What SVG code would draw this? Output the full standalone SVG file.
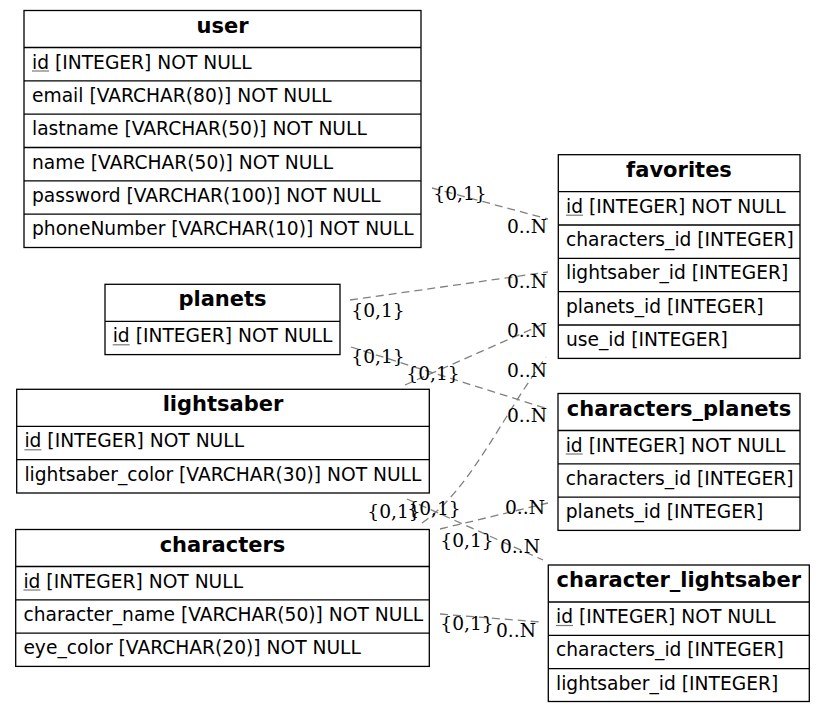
<svg xmlns="http://www.w3.org/2000/svg" width="825" height="713" viewBox="0 0 825 713">
<style>
.box{fill:#fff;stroke:#000;stroke-width:1.3}
.sep{stroke:#000;stroke-width:1.3}
.title{font-family:"DejaVu Sans",sans-serif;font-size:21px;font-weight:bold;text-anchor:middle;fill:#000}
.f{font-family:"DejaVu Sans",sans-serif;font-size:18.67px;fill:#000}
.ul{stroke:#7a7a7a;stroke-width:1.2}
.e{fill:none;stroke:#808080;stroke-width:1.3;stroke-dasharray:8,5}
.lb{font-family:"DejaVu Serif",serif;font-size:18.67px;text-anchor:middle;fill:#000}
</style>
<rect width="825" height="713" fill="#fff"/>
<g id="connectors">
<path class="e" d="M432,188 L548,219"/>
<path class="e" d="M350,300 L548,272"/>
<path class="e" d="M351,347 L548,409"/>
<path class="e" d="M405,385 L548,322"/>
<path class="e" d="M422,523 C470,490 500,420 546,357"/>
<path class="e" d="M407,499 L543,560"/>
<path class="e" d="M440,529 L548,503"/>
<path class="e" d="M440,614 L540,622"/>
<text class="lb" x="460" y="200">{0,1}</text>
<text class="lb" x="527" y="233">0..N</text>
<text class="lb" x="378" y="317">{0,1}</text>
<text class="lb" x="527" y="288">0..N</text>
<text class="lb" x="378" y="363">{0,1}</text>
<text class="lb" x="527" y="422">0..N</text>
<text class="lb" x="433" y="380">{0,1}</text>
<text class="lb" x="527" y="337">0..N</text>
<text class="lb" x="394" y="518">{0,1}</text>
<text class="lb" x="527" y="377">0..N</text>
<text class="lb" x="434" y="515">{0,1}</text>
<text class="lb" x="520" y="553">0..N</text>
<text class="lb" x="467" y="547">{0,1}</text>
<text class="lb" x="525" y="514">0..N</text>
<text class="lb" x="467" y="630">{0,1}</text>
<text class="lb" x="516" y="637">0..N</text>
</g>
<g id="user">
<rect class="box" x="24" y="10.5" width="397" height="237"/>
<line class="sep" x1="24" y1="47.5" x2="421" y2="47.5"/>
<line class="sep" x1="24" y1="80.8" x2="421" y2="80.8"/>
<line class="sep" x1="24" y1="114.2" x2="421" y2="114.2"/>
<line class="sep" x1="24" y1="147.5" x2="421" y2="147.5"/>
<line class="sep" x1="24" y1="180.8" x2="421" y2="180.8"/>
<line class="sep" x1="24" y1="214.2" x2="421" y2="214.2"/>
<text class="title" x="222.5" y="32.5">user</text>
<text class="f" x="32" y="68.5">id [INTEGER] NOT NULL</text>
<line class="ul" x1="32" y1="71" x2="49" y2="71"/>
<text class="f" x="32" y="101.8">email [VARCHAR(80)] NOT NULL</text>
<text class="f" x="32" y="135.2">lastname [VARCHAR(50)] NOT NULL</text>
<text class="f" x="32" y="168.5">name [VARCHAR(50)] NOT NULL</text>
<text class="f" x="32" y="201.8">password [VARCHAR(100)] NOT NULL</text>
<text class="f" x="32" y="235.2">phoneNumber [VARCHAR(10)] NOT NULL</text>
</g>
<g id="favorites">
<rect class="box" x="558.3" y="154.7" width="241.7" height="203.7"/>
<line class="sep" x1="558.3" y1="191.7" x2="800" y2="191.7"/>
<line class="sep" x1="558.3" y1="225" x2="800" y2="225"/>
<line class="sep" x1="558.3" y1="258.4" x2="800" y2="258.4"/>
<line class="sep" x1="558.3" y1="291.7" x2="800" y2="291.7"/>
<line class="sep" x1="558.3" y1="325" x2="800" y2="325"/>
<text class="title" x="679" y="176.7">favorites</text>
<text class="f" x="566" y="212.7">id [INTEGER] NOT NULL</text>
<line class="ul" x1="566" y1="215.2" x2="583" y2="215.2"/>
<text class="f" x="566" y="246">characters_id [INTEGER]</text>
<text class="f" x="566" y="279.4">lightsaber_id [INTEGER]</text>
<text class="f" x="566" y="312.7">planets_id [INTEGER]</text>
<text class="f" x="566" y="346">use_id [INTEGER]</text>
</g>
<g id="planets">
<rect class="box" x="105" y="284.3" width="235" height="70.3"/>
<line class="sep" x1="105" y1="321.3" x2="340" y2="321.3"/>
<text class="title" x="222.5" y="306.3">planets</text>
<text class="f" x="112.7" y="342.3">id [INTEGER] NOT NULL</text>
<line class="ul" x1="112.7" y1="344.8" x2="129.7" y2="344.8"/>
</g>
<g id="lightsaber">
<rect class="box" x="16.7" y="389.3" width="412.6" height="103.7"/>
<line class="sep" x1="16.7" y1="426.3" x2="429.3" y2="426.3"/>
<line class="sep" x1="16.7" y1="459.6" x2="429.3" y2="459.6"/>
<text class="title" x="223" y="411.3">lightsaber</text>
<text class="f" x="24.4" y="447.3">id [INTEGER] NOT NULL</text>
<line class="ul" x1="24.4" y1="449.8" x2="41.4" y2="449.8"/>
<text class="f" x="24.4" y="480.6">lightsaber_color [VARCHAR(30)] NOT NULL</text>
</g>
<g id="characters">
<rect class="box" x="15.7" y="529.5" width="413.6" height="136.9"/>
<line class="sep" x1="15.7" y1="566.5" x2="429.3" y2="566.5"/>
<line class="sep" x1="15.7" y1="599.8" x2="429.3" y2="599.8"/>
<line class="sep" x1="15.7" y1="633.1" x2="429.3" y2="633.1"/>
<text class="title" x="222.5" y="551.5">characters</text>
<text class="f" x="23.4" y="587.5">id [INTEGER] NOT NULL</text>
<line class="ul" x1="23.4" y1="590" x2="40.4" y2="590"/>
<text class="f" x="23.4" y="620.8">character_name [VARCHAR(50)] NOT NULL</text>
<text class="f" x="23.4" y="654.1">eye_color [VARCHAR(20)] NOT NULL</text>
</g>
<g id="characters_planets">
<rect class="box" x="558" y="393.5" width="242" height="136.9"/>
<line class="sep" x1="558" y1="430.5" x2="800" y2="430.5"/>
<line class="sep" x1="558" y1="463.8" x2="800" y2="463.8"/>
<line class="sep" x1="558" y1="497.1" x2="800" y2="497.1"/>
<text class="title" x="679" y="415.5">characters_planets</text>
<text class="f" x="565.7" y="451.5">id [INTEGER] NOT NULL</text>
<line class="ul" x1="565.7" y1="454" x2="582.7" y2="454"/>
<text class="f" x="565.7" y="484.8">characters_id [INTEGER]</text>
<text class="f" x="565.7" y="518.1">planets_id [INTEGER]</text>
</g>
<g id="character_lightsaber">
<rect class="box" x="548.3" y="565" width="261" height="136.5"/>
<line class="sep" x1="548.3" y1="602" x2="809.3" y2="602"/>
<line class="sep" x1="548.3" y1="635.3" x2="809.3" y2="635.3"/>
<line class="sep" x1="548.3" y1="668.6" x2="809.3" y2="668.6"/>
<text class="title" x="678.8" y="587">character_lightsaber</text>
<text class="f" x="556" y="623">id [INTEGER] NOT NULL</text>
<line class="ul" x1="556" y1="625.5" x2="573" y2="625.5"/>
<text class="f" x="556" y="656.3">characters_id [INTEGER]</text>
<text class="f" x="556" y="689.6">lightsaber_id [INTEGER]</text>
</g>
</svg>
